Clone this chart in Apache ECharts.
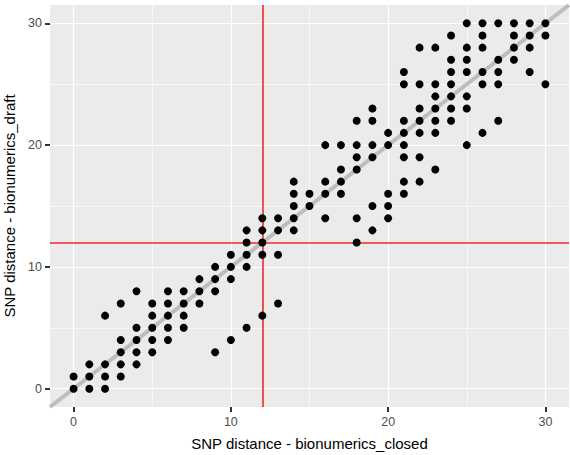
<!DOCTYPE html>
<html>
<head>
<meta charset="utf-8">
<script src="https://cdn.jsdelivr.net/npm/echarts@6/dist/echarts.min.js"></script>
<style>
  html, body { margin: 0; padding: 0; background: #fff; }
  #snp_chart { width: 570px; height: 455px; }
</style>
</head>
<body>
<div id="snp_chart"></div>
<script>
// SNP distance: closed (x) vs draft (y)
var closedValues = [0, 1, 2, 3, 4, 5, 6, 7, 8, 9, 10, 11, 12, 13, 14, 15,
  16, 17, 18, 19, 20, 21, 22, 23, 24, 25, 26, 27, 28, 29, 30];
// draft distances seen for each closed distance above
var draftValues = [
  [0, 1],
  [0, 1, 2],
  [0, 1, 2, 6],
  [1, 2, 3, 4, 7],
  [2, 3, 4, 5, 8],
  [3, 4, 5, 6, 7],
  [4, 5, 6, 7, 8],
  [5, 6, 7, 8],
  [7, 8, 9],
  [3, 8, 9, 10],
  [4, 9, 10, 11],
  [5, 10, 11, 12, 13],
  [6, 11, 12, 13, 14],
  [7, 11, 13, 14],
  [13, 14, 15, 16, 17],
  [15, 16],
  [14, 16, 17, 20],
  [16, 17, 18, 20],
  [12, 14, 18, 19, 20, 22],
  [13, 15, 19, 20, 22, 23],
  [14, 15, 16, 20, 21],
  [16, 17, 19, 20, 21, 22, 25, 26],
  [17, 19, 21, 22, 23, 25, 28],
  [18, 21, 22, 23, 24, 25, 28],
  [22, 23, 24, 25, 26, 27, 29],
  [20, 23, 24, 26, 27, 28, 30],
  [21, 25, 26, 28, 29, 30],
  [22, 25, 26, 27, 30],
  [27, 28, 29, 30],
  [26, 28, 29, 30],
  [25, 29, 30]
];
var majorTicks = [0, 10, 20, 30];
var minorTicks = [5, 15, 25];
var cutoff = 12;
var axisMin = -1.5;
var axisMax = 31.5;

var points = [];
closedValues.forEach(function (c, i) {
  draftValues[i].forEach(function (d) {
    points.push([c, d]);
  });
});

function gridLines(vals) {
  return vals.map(function (v) { return { xAxis: v }; })
    .concat(vals.map(function (v) { return { yAxis: v }; }));
}

var chart = echarts.init(document.getElementById("snp_chart"), null, { renderer: "svg" });

function makeAxis(title, gap, labelMargin) {
  return {
    type: "value",
    min: axisMin,
    max: axisMax,
    name: title,
    nameLocation: "middle",
    nameGap: gap,
    nameTextStyle: { color: "#000", fontSize: 15, fontFamily: "Liberation Sans" },
    axisLine: { show: true, onZero: false, lineStyle: { color: "rgba(0,0,0,0)" } },
    axisTick: {
      show: true,
      customValues: majorTicks,
      length: 5,
      lineStyle: { color: "#333", width: 2 }
    },
    axisLabel: {
      customValues: majorTicks,
      color: "#4d4d4d",
      fontSize: 12.5,
      fontFamily: "Liberation Sans",
      margin: labelMargin
    },
    splitLine: { show: false }
  };
}

chart.setOption({
  animation: false,
  grid: {
    left: 50,
    right: 1,
    top: 5,
    bottom: 48,
    outerBoundsMode: "none",
    show: true,
    backgroundColor: "#ebebeb",
    borderWidth: 0
  },
  xAxis: makeAxis("SNP distance - bionumerics_closed", 29, 8),
  yAxis: makeAxis("SNP distance - bionumerics_draft", 31, 8),
  series: [
    {
      type: "line",
      data: [],
      z: 1,
      markLine: {
        silent: true,
        symbol: "none",
        label: { show: false },
        lineStyle: { color: "#ffffff", width: 0.6, type: "solid" },
        data: gridLines(minorTicks)
      }
    },
    {
      type: "line",
      data: [],
      z: 1,
      markLine: {
        silent: true,
        symbol: "none",
        label: { show: false },
        lineStyle: { color: "#ffffff", width: 1.2, type: "solid" },
        data: gridLines(majorTicks)
      }
    },
    {
      type: "line",
      data: [],
      z: 2,
      markLine: {
        silent: true,
        symbol: "none",
        label: { show: false },
        lineStyle: { color: "#bdbdbd", width: 4, type: "solid" },
        data: [[{ coord: [axisMin, axisMin] }, { coord: [axisMax, axisMax] }]]
      }
    },
    {
      type: "line",
      data: [],
      z: 3,
      markLine: {
        silent: true,
        symbol: "none",
        label: { show: false },
        lineStyle: { color: "#f02a2a", width: 1.6, type: "solid" },
        data: [{ xAxis: cutoff }, { yAxis: cutoff }]
      }
    },
    {
      type: "scatter",
      z: 5,
      symbol: "circle",
      symbolSize: 8,
      itemStyle: { color: "#000", opacity: 1 },
      data: points
    }
  ]
});
</script>
</body>
</html>
